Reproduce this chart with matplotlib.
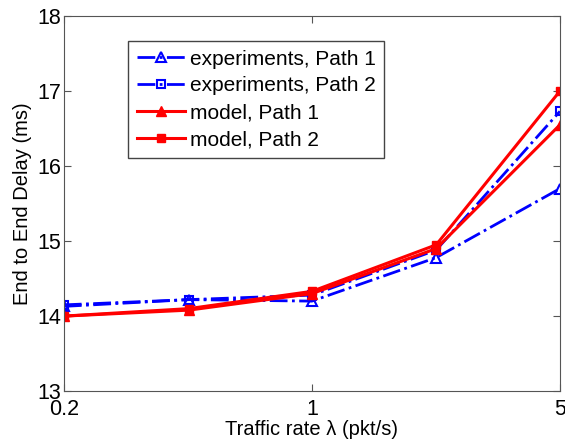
import matplotlib
matplotlib.use("Agg")
import matplotlib.pyplot as plt

plt.rcParams['font.family'] = ['Liberation Sans', 'DejaVu Sans']

# traffic rate (pkt/s)
rate = [0.2, 0.45, 1, 2.24, 5]

# end to end delay (ms)
exp_p1 = [14.13, 14.22, 14.20, 14.78, 15.70]
exp_p2 = [14.15, 14.22, 14.28, 14.88, 16.73]
mod_p1 = [14.00, 14.08, 14.30, 14.90, 16.55]
mod_p2 = [14.00, 14.10, 14.33, 14.95, 17.00]

fig = plt.figure(figsize=(5.65, 4.46), dpi=100)
ax = fig.add_axes([0.113, 0.123, 0.878, 0.841])

ax.plot(rate, exp_p1, '-.', color='blue', lw=2, marker='^', ms=7,
        mfc='none', mew=1.5, label='experiments, Path 1')
ax.plot(rate, exp_p2, '-.', color='blue', lw=2, marker='s', ms=6,
        mfc='none', mew=1.5, label='experiments, Path 2')
ax.plot(rate, mod_p1, '-', color='red', lw=2.2, marker='^', ms=7,
        label='model, Path 1')
ax.plot(rate, mod_p2, '-', color='red', lw=2.2, marker='s', ms=6,
        label='model, Path 2')

ax.set_xscale('log')
ax.set_xlim(0.2, 5)
ax.set_ylim(13, 18)
ax.set_xticks([0.2, 1, 5])
ax.set_xticklabels(['0.2', '1', '5'])
ax.minorticks_off()
ax.set_yticks([13, 14, 15, 16, 17, 18])
ax.tick_params(direction='in', top=True, right=True, labelsize=15.5,
               length=5, color='#555555')
ax.tick_params(axis='y', pad=2)
ax.tick_params(axis='x', pad=6)
for s in ax.spines.values():
    s.set_color('#555555')

ax.set_xlabel('Traffic rate \u03bb (pkt/s)', fontsize=14.5, labelpad=0)
ax.set_ylabel('End to End Delay (ms)', fontsize=14.5, labelpad=4)

leg = ax.legend(loc='upper left', bbox_to_anchor=(0.13, 0.933), fontsize=15,
                fancybox=False, edgecolor='#444444', framealpha=1,
                handlelength=2.3, borderpad=0.4, labelspacing=0.38,
                handletextpad=0.25, borderaxespad=0)
leg.get_frame().set_linewidth(1)

fig.savefig('out.png', dpi=100)
